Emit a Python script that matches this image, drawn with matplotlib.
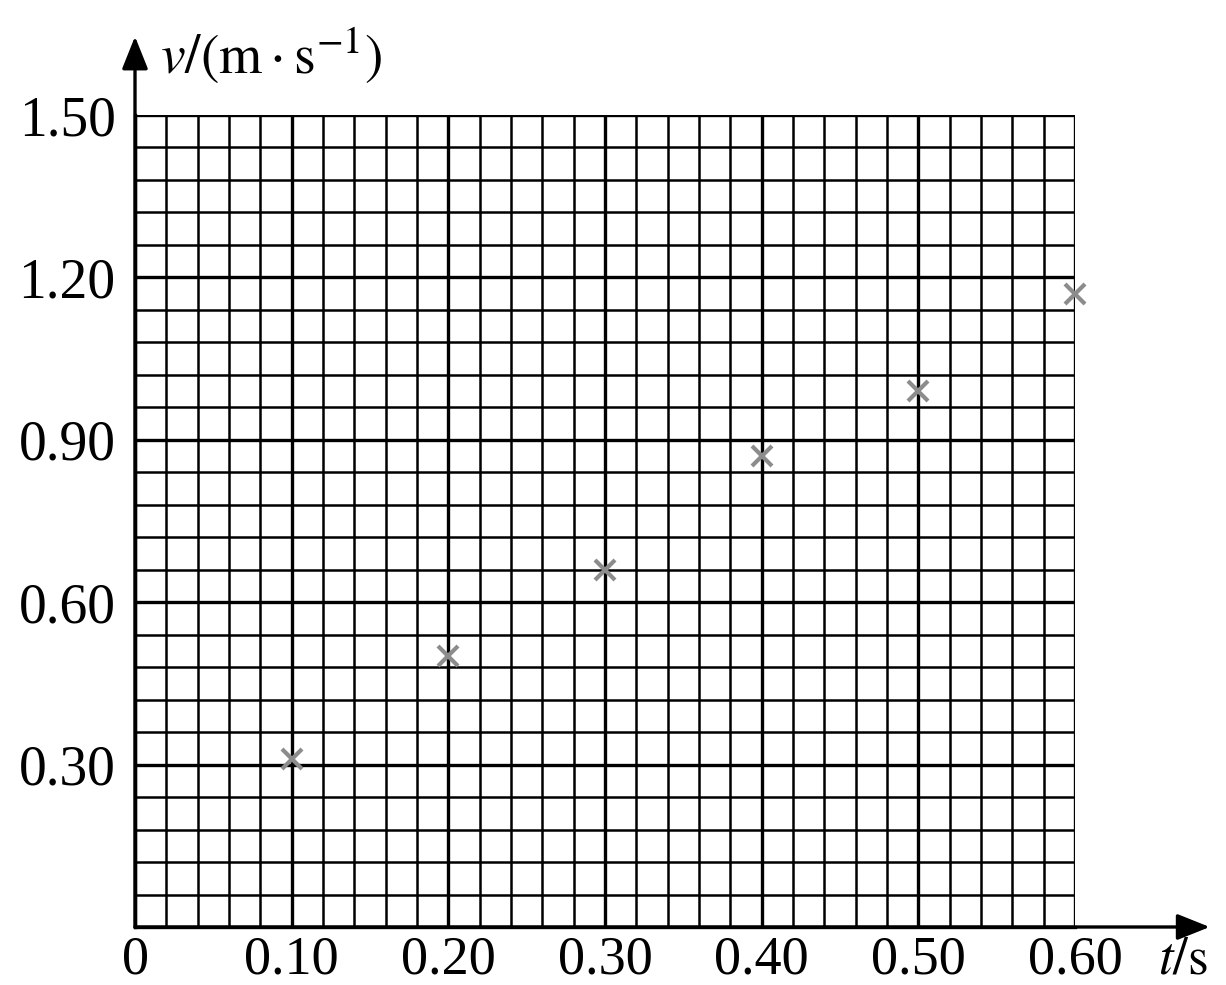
import matplotlib
matplotlib.use('Agg')
import matplotlib.pyplot as plt
import numpy as np

# data
t_vals = [0.10, 0.20, 0.30, 0.40, 0.50, 0.60]
v_vals = [0.31, 0.50, 0.66, 0.87, 0.99, 1.17]

x_major = [0.0, 0.10, 0.20, 0.30, 0.40, 0.50, 0.60]
x_labels = ['0', '0.10', '0.20', '0.30', '0.40', '0.50', '0.60']
y_major = [0.0, 0.30, 0.60, 0.90, 1.20, 1.50]
y_labels = ['', '0.30', '0.60', '0.90', '1.20', '1.50']

plt.rcParams['font.family'] = ['Liberation Serif', 'DejaVu Serif']
plt.rcParams['mathtext.fontset'] = 'stix'

fig = plt.figure(figsize=(12.26, 9.85), dpi=100)
ax = fig.add_axes([135 / 1226, 1 - 927 / 985, 940 / 1226, 812 / 985])
ax.set_xlim(0, 0.6)
ax.set_ylim(0, 1.5)

# grid paper
ax.set_xticks(x_major)
ax.set_xticklabels(x_labels)
ax.set_yticks(y_major)
ax.set_yticklabels(y_labels)
ax.set_xticks(np.arange(0, 0.6001, 0.02), minor=True)
ax.set_yticks(np.arange(0, 1.5001, 0.06), minor=True)
ax.grid(True, which='minor', color='black', linewidth=1.8)
ax.grid(True, which='major', color='black', linewidth=2.4)
ax.tick_params(which='both', length=0)
ax.tick_params(axis='x', labelsize=39, pad=6)
ax.tick_params(axis='y', labelsize=40, pad=14)
for side in ['top', 'right']:
    ax.spines[side].set_visible(False)
for side in ['left', 'bottom']:
    ax.spines[side].set_linewidth(2.4)
ax.set_axisbelow(True)

# axes arrows
arrow = dict(arrowstyle='-|>,head_length=2.0,head_width=0.8',
             color='black', lw=2.4, shrinkA=0, shrinkB=0)
ax.annotate('', xy=(0, 1.645), xytext=(0, 0), xycoords='data',
            arrowprops=arrow, annotation_clip=False)
ax.annotate('', xy=(0.686, 0), xytext=(0, 0), xycoords='data',
            arrowprops=arrow, annotation_clip=False)

ax.text(0.016, 1.61, r'$v/(\mathrm{m\cdot s^{-1}})$', fontsize=40,
        ha='left', va='center', clip_on=False)
ax.text(0.669, -0.062, r'$t/\mathrm{s}$', fontsize=38,
        ha='center', va='center', clip_on=False)

# measured points
ax.plot(t_vals, v_vals, linestyle='none', marker='x', markersize=15,
        markeredgewidth=3, color='#8c8c8c', zorder=5, clip_on=False)

plt.savefig('out.png', dpi=100)
plt.close()
